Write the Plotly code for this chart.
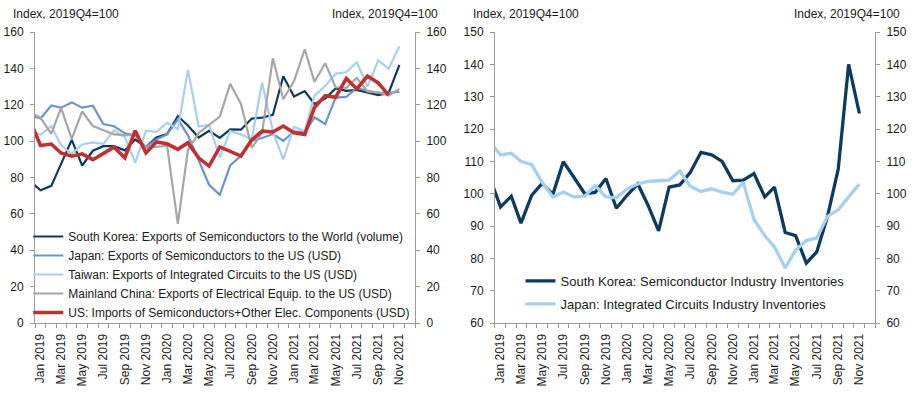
import pandas as pd
import plotly.graph_objects as go

# monthly index, Dec 2018 .. Nov 2021 (Dec 2018 sits just left of the visible axis)
months = pd.date_range("2018-12-01", periods=36, freq="MS")

# left panel, Index 2019Q4=100
kr_semis_world = [78, 73, 75.4, 87, 100.7, 86.6, 94.7, 97.2, 97.2, 94.9, 100.9, 96.7,
                  102, 103.9, 113.7, 108.6, 102, 105.7, 101.8, 106.5, 106.3, 112.4, 112.9, 114.4,
                  135.7, 124.5, 127.5, 120.4, 123.4, 129, 127.6, 128.2, 126.8, 125.3, 126.5, 141.9]
jp_semis_us = [114, 112.5, 119.6, 118.4, 121.3, 118.4, 119.5, 109.4, 108.2, 104.3, 103.2, 96.8,
               100.9, 103.7, 112, 103.2, 89.5, 76, 70.5, 86.6, 91.9, 100.2, 101.7, 103.9,
               100.2, 105.4, 104.8, 113.1, 109.4, 123.9, 124.3, 129.4, 127.6, 126.5, 126.5, 127.0]
tw_ic_us = [105.8, 103.5, 108.3, 97.7, 93, 98.2, 99.3, 98.5, 105.9, 102.3, 88.1, 105.7,
            105.1, 110.2, 106.5, 139.3, 108, 108.9, 91, 105.5, 103.7, 100.9, 132.2, 105.5,
            90, 107.8, 105.5, 125, 130.3, 137, 138, 143.3, 130, 144.4, 139.8, 152.2]
cn_elec_us = [116, 112.8, 104, 118.3, 101.2, 116.3, 108.3, 106, 103.7, 103.3, 103.3, 96.5,
              96.8, 97.4, 54.5, 95, 104.5, 108.7, 113.5, 131.5, 120.4, 96.3, 104.6, 145.6,
              123, 133, 150.5, 132.6, 142.8, 129.6, 129.3, 134.8, 127.3, 126.8, 125, 128.7]
us_imports = [111.5, 97.6, 98.4, 93.5, 91.7, 93, 89.8, 93, 96.7, 90.8, 105.7, 93.5,
              99.5, 98.5, 95.5, 99.1, 90.8, 86.3, 96.8, 94.4, 91.8, 100.7, 105.5, 105,
              108.3, 104.6, 103.7, 118.5, 125, 124.1, 134.5, 128.7, 135.8, 132, 125.3, None]

# right panel, Index 2019Q4=100
kr_inventories = [105, 95.9, 99.2, 90.9, 99.5, 103.2, 99.8, 109.9, 105, 100, 100.4, 104.7,
                  95.5, 99.5, 103, 96.5, 88.5, 102, 102.7, 106.5, 112.8, 112, 110, 104,
                  104.2, 106.2, 99, 102, 88, 87, 78.5, 82, 93, 107.6, 140, 124.8]
jp_inventories = [116, 112, 112.5, 110, 109, 103.5, 99, 100.5, 99, 99.2, 102.5, 99,
                  98.7, 101.5, 103, 103.8, 104, 104.2, 107, 102.3, 100.7, 101.5, 100.5, 99.8,
                  103.5, 92, 87, 83.5, 77, 82.5, 85.5, 86.3, 93, 95, 99, 103]

FONT = "Liberation Sans, Arial, sans-serif"
TXT = "#1a1a1a"
AXIS = "#9a9a9a"
NAVY = "#0f3a60"
MIDBLUE = "#6c94c8"
LIGHTBLUE = "#a8cff0"
GREY = "#a6a6a6"
RED = "#c13030"

fig = go.Figure()

left = [
    ("South Korea: Exports of Semiconductors to the World (volume)", kr_semis_world, NAVY, 2.2),
    ("Japan: Exports of Semiconductors to the US (USD)", jp_semis_us, MIDBLUE, 2.2),
    ("Taiwan: Exports of Integrated Circuits to the US (USD)", tw_ic_us, LIGHTBLUE, 2.2),
    ("Mainland China: Exports of Electrical Equip. to the US (USD)", cn_elec_us, GREY, 2.2),
    ("US: Imports of Semiconductors+Other Elec. Components (USD)", us_imports, RED, 3.6),
]
for name, vals, col, w in left:
    fig.add_trace(go.Scatter(x=months, y=vals, name=name, mode="lines",
                             line=dict(color=col, width=w), xaxis="x", yaxis="y",
                             legend="legend"))

right = [
    ("South Korea: Semiconductor Industry Inventories", kr_inventories, NAVY),
    ("Japan: Integrated Circuits Industry Inventories", jp_inventories, LIGHTBLUE),
]
for k, (name, vals, col) in enumerate(right):
    fig.add_trace(go.Scatter(x=months, y=vals, name=name, mode="lines",
                             line=dict(color=col, width=3.3), xaxis="x2", yaxis="y2",
                             legend="legend2", legendgroup=f"r{k}"))

# invisible traces so the right-hand axes get drawn
fig.add_trace(go.Scatter(x=[months[1]], y=[None], xaxis="x", yaxis="y3", showlegend=False, hoverinfo="skip"))
fig.add_trace(go.Scatter(x=[months[1]], y=[None], xaxis="x2", yaxis="y4", showlegend=False, hoverinfo="skip"))

xcommon = dict(type="date", range=["2018-12-16", "2021-12-16"], tickformat="%b %Y",
               dtick="M2", tick0="2019-01-01", tickangle=-90, ticks="outside", ticklen=5,
               tickcolor="rgba(0,0,0,0)", showline=True, linecolor=AXIS, linewidth=1,
               showgrid=False, zeroline=False, automargin=False,
               minor=dict(ticks="outside", ticklen=4, tickcolor=AXIS, dtick="M1",
                          tick0="2018-12-16", showgrid=False),
               tickfont=dict(size=12, color=TXT, family=FONT))
ycommon = dict(ticks="outside", ticklen=4, tickcolor=AXIS, showline=True, linecolor=AXIS,
               linewidth=1, showgrid=False, zeroline=False, ticklabelstandoff=4,
               automargin=False, tickfont=dict(size=12, color=TXT, family=FONT))

fig.update_layout(
    width=917, height=407,
    margin=dict(l=35, r=42, t=32, b=84),
    paper_bgcolor="white", plot_bgcolor="white",
    font=dict(family=FONT, size=12, color=TXT),
    xaxis=dict(domain=[0, 0.4524], anchor="y", **xcommon),
    xaxis2=dict(domain=[0.5476, 1], anchor="y2", **xcommon),
    yaxis=dict(anchor="x", range=[0, 160], dtick=20, **ycommon),
    yaxis3=dict(anchor="x", overlaying="y", side="right", range=[0, 160], dtick=20, **ycommon),
    yaxis2=dict(anchor="x2", range=[60, 150], dtick=10, **ycommon),
    yaxis4=dict(anchor="x2", overlaying="y2", side="right", range=[60, 150], dtick=10, **ycommon),
    legend=dict(x=-0.008, y=0.347, xanchor="left", yanchor="top", bgcolor="rgba(0,0,0,0)",
                font=dict(size=12, color=TXT, family=FONT), tracegroupgap=0, itemwidth=30),
    legend2=dict(x=0.578, y=0.196, xanchor="left", yanchor="top", bgcolor="rgba(0,0,0,0)",
                 font=dict(size=13, color=TXT, family=FONT), tracegroupgap=3, itemwidth=30),
    showlegend=True,
)

title = "Index, 2019Q4=100"
for x, anchor in [(-0.0286, "left"), (0.482, "right"), (0.519, "left"), (1.032, "right")]:
    fig.add_annotation(text=title, xref="paper", yref="paper", x=x, y=1.063,
                       xanchor=anchor, yanchor="middle", showarrow=False,
                       font=dict(size=12, color=TXT, family=FONT))

# the default page has an 8px body margin; drop it so the figure fills the window
fig.write_html("out.html", config={"displayModeBar": False},
               post_script="document.body.style.margin='0';")
